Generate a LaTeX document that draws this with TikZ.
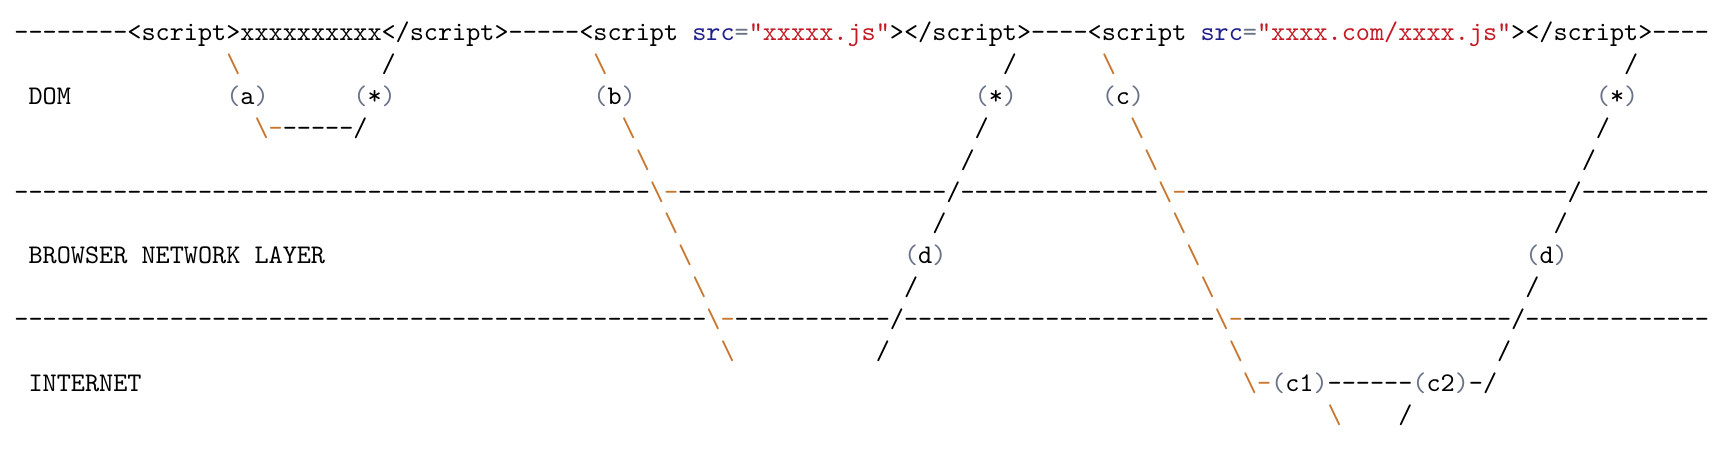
\documentclass[tikz,border=0pt]{standalone}
\usepackage{fontspec}
\usepackage{tikz}
\usetikzlibrary{calc}
\definecolor{escorange}{RGB}{200,118,46}
\definecolor{parengray}{RGB}{105,115,135}
\definecolor{attrblue}{RGB}{32,32,140}
\definecolor{strred}{RGB}{196,26,36}
\tikzstyle{cell} = [anchor=base west, inner sep=0pt, outer sep=0pt, font=\ttfamily]
\newcommand{\bsl}{\textbackslash}
\newcommand{\escseq}[1]{\textcolor{escorange}{#1}}
\newcommand{\paren}[1]{\textcolor{parengray}{(}#1\textcolor{parengray}{)}}
\newcommand{\attrname}[1]{\textcolor{attrblue}{#1}}
\newcommand{\strval}[1]{\textcolor{strred}{#1}}
\newcommand{\dashrun}[1]{\foreach \i in {1,...,#1}{-}}

\begin{document}
\begin{tikzpicture}[x=5.25pt, y=-11.85pt]
    \useasboundingbox (-5.39pt,15.13pt) rectangle (638.2pt,-151.5pt);
    % html line
    \node[cell] (html) at (0,0) {\dashrun{8}<script>xxxxxxxxxx</script>\dashrun{5}<script \attrname{src}\textcolor{parengray}{=}\strval{"xxxxx.js"}></script>\dashrun{4}<script \attrname{src}\textcolor{parengray}{=}\strval{"xxxx.com/xxxx.js"}></script>\dashrun{4}};
    % layer names
    \node[cell] (dom) at (1,2) {DOM};
    \node[cell] (network) at (1,7) {BROWSER NETWORK LAYER};
    \node[cell] (internet) at (1,11) {INTERNET};
    % layer borders
    \node[cell] (domborder) at (0,5) {\dashrun{45}\escseq{\bsl-}\dashrun{19}/\dashrun{14}\escseq{\bsl-}\dashrun{27}/\dashrun{9}};
    \node[cell] (netborder) at (0,9) {\dashrun{49}\escseq{\bsl-}\dashrun{11}/\dashrun{22}\escseq{\bsl-}\dashrun{19}/\dashrun{13}};
    % steps
    \node[cell] (a) at (15,2) {\paren{a}};
    \node[cell] (runa) at (24,2) {\paren{*}};
    \node[cell] (b) at (41,2) {\paren{b}};
    \node[cell] (runb) at (68,2) {\paren{*}};
    \node[cell] (c) at (77,2) {\paren{c}};
    \node[cell] (runc) at (112,2) {\paren{*}};
    \node[cell] (db) at (63,7) {\paren{d}};
    \node[cell] (dc) at (107,7) {\paren{d}};
    \node[cell] (inline) at (17,3) {\escseq{\bsl-}-----/};
    \node[cell] (cdn) at (87,11) {\escseq{\bsl-}\paren{c1}------\paren{c2}-/};
    % slashes
    \foreach \c/\r in {26/1,70/1,114/1,68/3,112/3,67/4,111/4,65/6,109/6,63/8,107/8,61/10,105/10,98/12}
      \node[cell] (fs-\c-\r) at (\c,\r) {/};
    \foreach \c/\r in {15/1,41/1,77/1,43/3,79/3,44/4,80/4,46/6,82/6,47/7,83/7,48/8,84/8,50/10,86/10,93/12}
      \node[cell, text=escorange] (bs-\c-\r) at (\c,\r) {\bsl};
\end{tikzpicture}
\end{document}
